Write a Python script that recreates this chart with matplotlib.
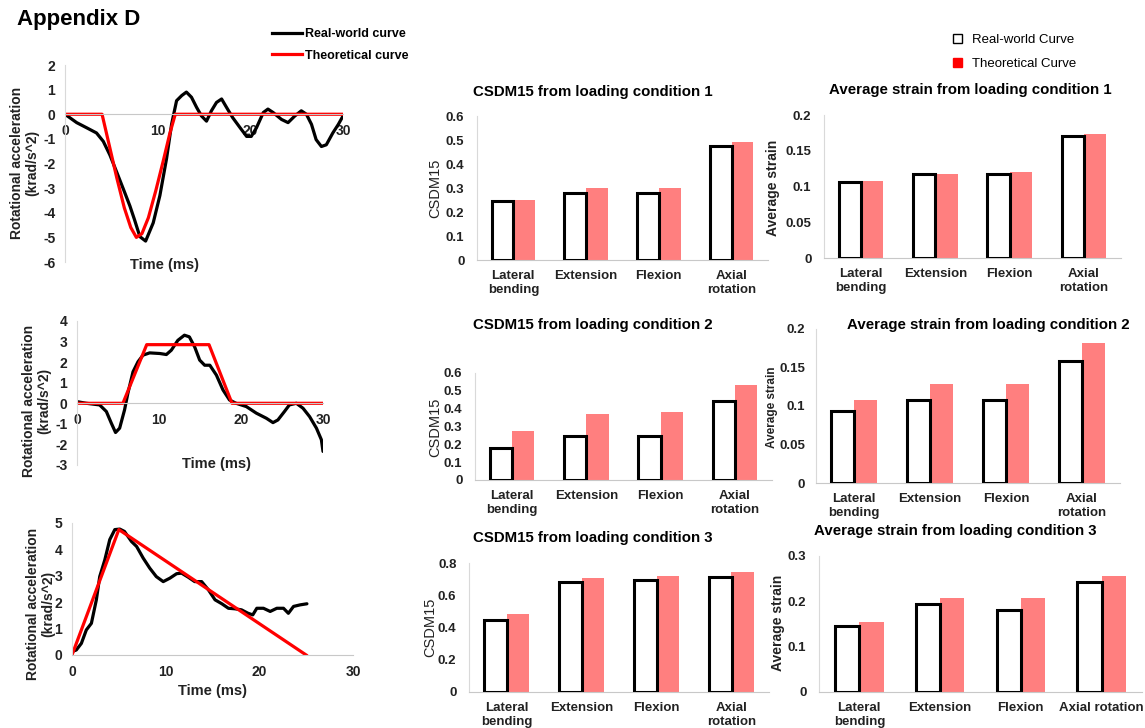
import numpy as np
import matplotlib.pyplot as plt
from matplotlib.lines import Line2D
from matplotlib.patches import Patch

plt.rcParams['font.family'] = ['Liberation Sans', 'DejaVu Sans']
plt.rcParams['axes.unicode_minus'] = False

# ---- line chart data (time in ms, rotational acceleration in krad/s^2) ----
t1_real = [0, 1.26, 2.34, 3.4, 4.13, 4.85, 5.57, 6.29, 7.0, 7.5, 8.08, 8.7, 9.52, 10.24, 10.96,
           11.5, 12.04, 12.6, 13.1, 13.65, 14.2, 14.73, 15.27, 15.8, 16.35, 16.9, 17.43, 18.1,
           18.9, 19.6, 20.1, 20.66, 21.4, 21.9, 22.46, 23.36, 24.07, 24.8, 25.5, 26.05, 26.6,
           27.1, 27.67, 28.2, 28.9, 29.5, 30]
a1_real = [0, -0.34, -0.55, -0.76, -1.1, -1.66, -2.34, -3.03, -3.72, -4.28, -4.97, -5.15, -4.41,
           -3.3, -1.8, -0.41, 0.55, 0.76, 0.9, 0.69, 0.28, -0.07, -0.28, 0.14, 0.48, 0.62, 0.28,
           -0.14, -0.55, -0.9, -0.9, -0.55, 0.07, 0.21, 0.07, -0.21, -0.34, -0.07, 0.14, 0,
           -0.41, -1.03, -1.31, -1.24, -0.76, -0.41, -0.07]
t1_theo = [0, 4.0, 4.8, 5.6, 6.4, 7.1, 7.7, 8.3, 9.0, 9.8, 10.6, 11.3, 11.9, 30]
a1_theo = [0, 0, -1.3, -2.6, -3.8, -4.6, -5.0, -4.85, -4.2, -3.1, -1.9, -0.8, 0, 0]

t2_real = [0, 1.14, 2.76, 3.58, 4.19, 4.7, 5.2, 5.8, 6.2, 6.83, 7.44, 8.05, 8.86, 10.1, 10.9,
           11.5, 12.3, 13.1, 13.7, 14.35, 14.96, 15.57, 16.2, 17.0, 17.8, 18.6, 19.4, 20.65,
           21.87, 23.1, 23.9, 24.5, 25.3, 25.9, 26.75, 27.56, 28.37, 29.2, 29.8, 30]
a2_real = [0.08, 0, -0.08, -0.4, -0.97, -1.42, -1.21, -0.32, 0.48, 1.53, 2.02, 2.34, 2.45, 2.42,
           2.37, 2.58, 3.06, 3.31, 3.23, 2.74, 2.1, 1.85, 1.85, 1.37, 0.65, 0.16, 0, -0.16,
           -0.48, -0.73, -0.94, -0.81, -0.4, -0.08, 0, -0.24, -0.65, -1.21, -1.77, -2.34]
t2_theo = [0, 5.6, 8.5, 16.1, 18.9, 30]
a2_theo = [0, 0, 2.85, 2.85, 0, 0]

t3_real = [0, 0.46, 1.0, 1.53, 2.07, 2.6, 2.96, 3.5, 4.03, 4.57, 5.1, 5.6, 6.35, 6.9, 7.6, 8.3,
           9.0, 9.74, 10.45, 11.17, 11.7, 12.4, 13.1, 13.84, 14.56, 15.27, 16.0, 16.7, 17.4,
           18.1, 18.8, 19.3, 19.73, 20.44, 21.16, 21.87, 22.58, 23.1, 23.65, 24.37, 25.08]
a3_real = [0.13, 0.19, 0.44, 0.95, 1.2, 2.09, 2.97, 3.6, 4.37, 4.75, 4.77, 4.68, 4.3, 4.11, 3.67,
           3.29, 2.97, 2.78, 2.91, 3.08, 3.1, 2.95, 2.78, 2.78, 2.47, 2.09, 1.94, 1.77, 1.75,
           1.71, 1.58, 1.52, 1.77, 1.77, 1.65, 1.77, 1.77, 1.58, 1.84, 1.9, 1.94]
t3_theo = [0, 5, 25]
a3_theo = [0, 4.75, 0]

# ---- bar chart data ----
categories = ["Lateral\nbending", "Extension", "Flexion", "Axial\nrotation"]
categories_last = ["Lateral\nbending", "Extension", "Flexion", "Axial rotation"]
csdm1_real = [0.245, 0.28, 0.28, 0.475]
csdm1_theo = [0.25, 0.298, 0.302, 0.49]
strain1_real = [0.106, 0.117, 0.117, 0.170]
strain1_theo = [0.108, 0.118, 0.120, 0.173]
csdm2_real = [0.178, 0.244, 0.244, 0.444]
csdm2_theo = [0.272, 0.371, 0.379, 0.531]
strain2_real = [0.094, 0.108, 0.108, 0.159]
strain2_theo = [0.108, 0.128, 0.128, 0.182]
csdm3_real = [0.448, 0.684, 0.696, 0.713]
csdm3_theo = [0.483, 0.709, 0.721, 0.742]
strain3_real = [0.146, 0.194, 0.181, 0.242]
strain3_theo = [0.154, 0.207, 0.207, 0.255]

W, H = 1145, 728
fig = plt.figure(figsize=(W / 100, H / 100), dpi=100)


def box(l, t, r, b):
    # axes placed by pixel edges (y measured from top)
    return fig.add_axes([l / W, 1 - b / H, (r - l) / W, (b - t) / H])


def ftext(x, y, s, **kw):
    return fig.text(x / W, 1 - y / H, s, **kw)


def line_chart(rect, tr, ar, tt, at, ylim, yticks, zero_axis=True):
    ax = box(*rect)
    ax.plot(tr, ar, color='black', lw=2.3, solid_capstyle='round')
    ax.plot(tt, at, color='#ff0000', lw=2.3)
    ax.set_xlim(0, 30)
    ax.set_ylim(*ylim)
    ax.set_xticks([0, 10, 20, 30])
    ax.set_yticks(yticks)
    for s in ['top', 'right']:
        ax.spines[s].set_visible(False)
    ax.spines['left'].set_color('#d9d9d9')
    ax.spines['bottom'].set_color('#c8c8c8')
    if zero_axis:
        ax.spines['bottom'].set_position(('data', 0))
    ax.tick_params(length=0, labelsize=10, pad=7)
    for lab in ax.get_xticklabels() + ax.get_yticklabels():
        lab.set_fontweight('bold')
        lab.set_color('#222222')
    return ax


ax1 = line_chart((65, 65, 343, 262), t1_real, a1_real, t1_theo, a1_theo, (-6, 2), range(-6, 3))
ax2 = line_chart((77, 321, 323, 465), t2_real, a2_real, t2_theo, a2_theo, (-3, 4), range(-3, 5))
ax3 = line_chart((72, 523, 353, 655), t3_real, a3_real, t3_theo, a3_theo, (0, 5), range(0, 6),
                 zero_axis=False)

ylab = "Rotational acceleration\n(krad/s^2)"
for (x, y) in [(25, 163), (37, 401), (41, 604)]:
    ftext(x, y, ylab, rotation=90, ha='center', va='center', ma='center',
          fontsize=10, fontweight='bold', color='#222222', linespacing=1.1)
for (x, y) in [(164, 265), (217, 464), (212, 691)]:
    ftext(x, y, "Time (ms)", ha='center', va='center', fontsize=10.5, fontweight='bold',
          color='#222222')

ftext(17, 19, "Appendix D", ha='left', va='center', fontsize=16, fontweight='bold')

fig.legend([Line2D([], [], color='black', lw=2.3), Line2D([], [], color='#ff0000', lw=2.3)],
           ["Real-world curve", "Theoretical curve"], loc='upper left',
           bbox_to_anchor=(266 / W, 1 - 22 / H), frameon=False, handlelength=2.4,
           handletextpad=0.2, labelspacing=0.75, borderpad=0,
           prop={'size': 9, 'weight': 'bold'})


def bar_chart(rect, real, theo, ylim, yticks, labels, title, tpos, ylabel, ypos, ysize, yweight,
              ypad=9):
    ax = box(*rect)
    x = np.arange(len(real))
    w = 0.3
    ax.bar(x + w / 2, theo, w, color='#ff7f7f', zorder=2)
    ax.bar(x - w / 2, real, w, facecolor='white', edgecolor='black', lw=2.2, zorder=3)
    ax.set_xlim(-0.5, len(real) - 0.5)
    ax.set_ylim(*ylim)
    ax.set_yticks(yticks)
    ax.set_yticklabels(['{:g}'.format(v) for v in yticks])
    ax.set_xticks(x)
    ax.set_xticklabels(labels)
    for s in ['top', 'right']:
        ax.spines[s].set_visible(False)
    ax.spines['left'].set_color('#d9d9d9')
    ax.spines['bottom'].set_color('#c8c8c8')
    ax.tick_params(axis='x', length=0, labelsize=9.5, pad=7)
    ax.tick_params(axis='y', length=0, labelsize=9.5, pad=ypad)
    for lab in ax.get_xticklabels() + ax.get_yticklabels():
        lab.set_fontweight('bold')
        lab.set_color('#222222')
    ftext(tpos[0], tpos[1], title, ha='center', va='center', fontsize=10.8, fontweight='bold')
    ftext(ypos[0], ypos[1], ylabel, rotation=90, ha='center', va='center', fontsize=ysize,
          fontweight=yweight, color='#222222')
    return ax


bar_chart((477, 116, 768, 260), csdm1_real, csdm1_theo, (0, 0.6), np.round(np.arange(0, 0.61, 0.1), 2),
          categories, "CSDM15 from loading condition 1", (593, 92), "CSDM15", (435, 188), 10.5, 'normal')
bar_chart((824, 115, 1121, 258), strain1_real, strain1_theo, (0, 0.2), [0, 0.05, 0.1, 0.15, 0.2],
          categories, "Average strain from loading condition 1", (970, 90), "Average strain", (773, 188),
          10, 'bold')
bar_chart((475, 373, 772, 480), csdm2_real, csdm2_theo, (0, 0.6), np.round(np.arange(0, 0.61, 0.1), 2),
          categories, "CSDM15 from loading condition 2", (593, 325), "CSDM15", (435, 427), 10.5, 'normal')
bar_chart((816, 329, 1120, 483), strain2_real, strain2_theo, (0, 0.2), [0, 0.05, 0.1, 0.15, 0.2],
          categories, "Average strain from loading condition 2", (988, 325), "Average strain", (772, 407),
          8.5, 'bold', ypad=8)
bar_chart((469, 563, 769, 692), csdm3_real, csdm3_theo, (0, 0.8), [0, 0.2, 0.4, 0.6, 0.8],
          categories, "CSDM15 from loading condition 3", (593, 538), "CSDM15", (430, 627), 10.5, 'normal')
bar_chart((819, 556, 1142, 692), strain3_real, strain3_theo, (0, 0.3), [0, 0.1, 0.2, 0.3],
          categories_last, "Average strain from loading condition 3", (955, 531), "Average strain",
          (778, 623), 10, 'bold')

fig.legend([Patch(facecolor='white', edgecolor='black', lw=1),
            Patch(facecolor='#ff0000', edgecolor='#ff0000')],
           ["Real-world Curve", "Theoretical Curve"], loc='upper left',
           bbox_to_anchor=(946 / W, 1 - 27 / H), frameon=False, handlelength=0.7,
           handleheight=0.7, handletextpad=0.8, labelspacing=0.9, borderpad=0,
           prop={'size': 9.5})

fig.savefig('out.png', dpi=100)
